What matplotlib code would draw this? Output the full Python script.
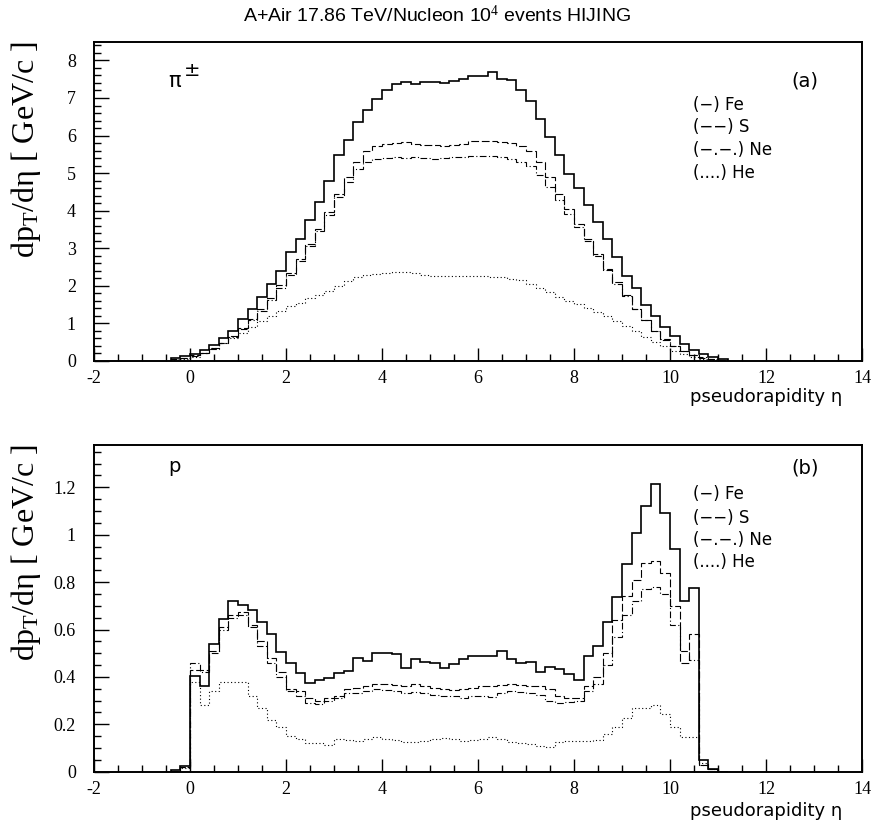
import numpy as np
import matplotlib
matplotlib.use("Agg")
import matplotlib.pyplot as plt
from matplotlib.ticker import MultipleLocator, FuncFormatter

# ---------------- data (bin contents, 0.2-wide bins starting at eta = -0.4) ----------------
bin_start = -0.4
bin_width = 0.2

pi_fe = [0.07, 0.12, 0.19, 0.28, 0.43, 0.60, 0.80, 1.11, 1.38, 1.69, 2.04, 2.40, 2.89, 3.24, 3.76,
         4.23, 4.79, 5.47, 5.89, 6.36, 6.68, 6.98, 7.21, 7.38, 7.43, 7.38, 7.42, 7.42, 7.40, 7.45,
         7.51, 7.58, 7.58, 7.69, 7.51, 7.47, 7.21, 6.93, 6.45, 5.96, 5.49, 4.98, 4.60, 4.16, 3.70,
         3.24, 2.76, 2.25, 1.94, 1.49, 1.20, 0.90, 0.65, 0.45, 0.29, 0.17, 0.09, 0.04]
pi_s = [0.04, 0.08, 0.14, 0.21, 0.33, 0.48, 0.65, 0.88, 1.12, 1.38, 1.68, 2.02, 2.35, 2.72, 3.12,
        3.52, 3.95, 4.45, 4.90, 5.30, 5.60, 5.72, 5.78, 5.80, 5.82, 5.78, 5.76, 5.74, 5.72, 5.76,
        5.78, 5.85, 5.86, 5.86, 5.84, 5.80, 5.72, 5.60, 5.30, 4.90, 4.45, 4.05, 3.65, 3.25, 2.85,
        2.45, 2.10, 1.75, 1.38, 1.08, 0.80, 0.56, 0.38, 0.25, 0.15, 0.08, 0.04, 0.02]
pi_ne = [0.04, 0.08, 0.13, 0.20, 0.32, 0.47, 0.63, 0.85, 1.08, 1.33, 1.62, 1.95, 2.28, 2.65, 3.05,
         3.45, 3.88, 4.35, 4.75, 5.10, 5.30, 5.38, 5.40, 5.42, 5.40, 5.42, 5.40, 5.38, 5.40, 5.42,
         5.42, 5.45, 5.45, 5.45, 5.43, 5.38, 5.30, 5.18, 4.95, 4.62, 4.28, 3.92, 3.55, 3.18, 2.80,
         2.42, 2.05, 1.72, 1.38, 1.08, 0.80, 0.58, 0.40, 0.26, 0.16, 0.09, 0.04, 0.02]
pi_he = [0.02, 0.05, 0.11, 0.20, 0.34, 0.47, 0.60, 0.74, 0.90, 1.05, 1.18, 1.32, 1.45, 1.54, 1.67,
         1.76, 1.85, 1.98, 2.12, 2.23, 2.28, 2.31, 2.34, 2.36, 2.36, 2.35, 2.29, 2.27, 2.25, 2.25,
         2.25, 2.26, 2.26, 2.24, 2.22, 2.19, 2.14, 2.05, 1.95, 1.82, 1.70, 1.60, 1.50, 1.40, 1.30,
         1.18, 1.05, 0.92, 0.78, 0.64, 0.50, 0.38, 0.27, 0.17, 0.10, 0.05, 0.02, 0.01]

p_fe = [0.007, 0.024, 0.405, 0.363, 0.537, 0.643, 0.720, 0.703, 0.682, 0.633, 0.580, 0.507, 0.457,
        0.418, 0.375, 0.387, 0.394, 0.418, 0.427, 0.481, 0.467, 0.500, 0.500, 0.497, 0.439, 0.474,
        0.464, 0.457, 0.437, 0.453, 0.476, 0.490, 0.488, 0.490, 0.509, 0.474, 0.460, 0.464, 0.422,
        0.440, 0.432, 0.411, 0.387, 0.488, 0.530, 0.633, 0.736, 0.875, 1.008, 1.121, 1.213, 1.093,
        0.940, 0.720, 0.777, 0.049, 0.010, 0.0]
p_s = [0.005, 0.020, 0.430, 0.430, 0.510, 0.610, 0.660, 0.675, 0.620, 0.550, 0.480, 0.420, 0.350,
       0.340, 0.310, 0.300, 0.310, 0.320, 0.350, 0.355, 0.360, 0.370, 0.370, 0.365, 0.360, 0.370,
       0.360, 0.355, 0.350, 0.345, 0.350, 0.355, 0.360, 0.360, 0.365, 0.370, 0.365, 0.360, 0.360,
       0.350, 0.320, 0.310, 0.310, 0.360, 0.400, 0.500, 0.640, 0.740, 0.810, 0.880, 0.890, 0.840,
       0.700, 0.460, 0.580, 0.030, 0.010, 0.0]
p_ne = [0.005, 0.020, 0.460, 0.420, 0.500, 0.600, 0.650, 0.660, 0.610, 0.530, 0.460, 0.400, 0.340,
        0.320, 0.290, 0.285, 0.300, 0.310, 0.330, 0.330, 0.340, 0.350, 0.345, 0.340, 0.330, 0.335,
        0.330, 0.325, 0.320, 0.320, 0.310, 0.320, 0.320, 0.315, 0.330, 0.340, 0.335, 0.330, 0.325,
        0.300, 0.290, 0.295, 0.300, 0.340, 0.370, 0.450, 0.570, 0.660, 0.720, 0.770, 0.780, 0.750,
        0.620, 0.510, 0.470, 0.030, 0.010, 0.0]
p_he = [0.003, 0.015, 0.380, 0.280, 0.340, 0.380, 0.380, 0.380, 0.320, 0.270, 0.220, 0.190, 0.150,
        0.137, 0.123, 0.120, 0.113, 0.138, 0.135, 0.130, 0.140, 0.148, 0.140, 0.135, 0.126, 0.124,
        0.130, 0.138, 0.142, 0.140, 0.130, 0.135, 0.140, 0.148, 0.140, 0.125, 0.120, 0.118, 0.110,
        0.105, 0.125, 0.130, 0.130, 0.130, 0.135, 0.160, 0.190, 0.225, 0.270, 0.270, 0.280, 0.245,
        0.190, 0.148, 0.148, 0.035, 0.010, 0.0]

legend_labels = ["(\u2212) Fe", "(\u2212\u2212) S", "(\u2212.\u2212.) Ne", "(....) He"]
title_text = "A+Air 17.86 TeV/Nucleon 10$^4$ events HIJING"
ylabel_text = "dp$_\\mathrm{T}$/d\u03b7 [ GeV/c ]"
xlabel_text = "pseudorapidity \u03b7"

# ---------------- figure ----------------
W, H = 874, 831
plt.rcParams['mathtext.fontset'] = 'custom'
plt.rcParams['mathtext.rm'] = 'Liberation Serif'
plt.rcParams['mathtext.it'] = 'Liberation Serif:italic'
fig = plt.figure(figsize=(W / 100, H / 100), dpi=100)


def px_axes(x0, x1, ytop, ybot):
    return fig.add_axes([x0 / W, 1 - ybot / H, (x1 - x0) / W, (ybot - ytop) / H])


ax1 = px_axes(94, 862, 41.7, 360.7)
ax2 = px_axes(94, 862, 771.7 - 1.38 * 237, 771.7)

styles = [dict(color='black', lw=1.2, ls='-'),
          dict(color='black', lw=0.8, ls=(0, (7, 2.5))),
          dict(color='black', lw=0.8, ls=(0, (6, 2.2, 1, 2.2))),
          dict(color='black', lw=0.8, ls=(0, (1, 2.2)))]

fmt = FuncFormatter(lambda v, p: f"{v:g}")


def draw_panel(ax, series, ymax, ymaj, ymin):
    n = len(series[0])
    edges = bin_start + bin_width * np.arange(n + 1)
    for vals, st in zip(series, styles):
        ax.stairs(vals, edges, baseline=0, **st)
    ax.set_xlim(-2, 14)
    ax.set_ylim(0, ymax)
    ax.xaxis.set_major_locator(MultipleLocator(2))
    ax.xaxis.set_minor_locator(MultipleLocator(0.5))
    ax.yaxis.set_major_locator(MultipleLocator(ymaj))
    ax.yaxis.set_minor_locator(MultipleLocator(ymin))
    ax.xaxis.set_major_formatter(fmt)
    ax.yaxis.set_major_formatter(fmt)
    ax.tick_params(axis='both', which='both', direction='in', top=False, right=False,
                   width=1.0, labelsize=13)
    ax.tick_params(axis='x', which='major', length=9.5, pad=7)
    ax.tick_params(axis='x', which='minor', length=5)
    ax.tick_params(axis='y', which='major', length=10.5, pad=13)
    ax.tick_params(axis='y', which='minor', length=5)
    for lab in ax.get_xticklabels() + ax.get_yticklabels():
        lab.set_fontfamily('Liberation Serif')
    for sp in ax.spines.values():
        sp.set_linewidth(1.4)
    ax.set_ylabel(ylabel_text, fontsize=23, family='Liberation Serif', loc='top')
    ax.yaxis.set_label_coords(-0.066, 1.0)


draw_panel(ax1, [pi_fe, pi_s, pi_ne, pi_he], 8.5, 1, 0.2)
draw_panel(ax2, [p_fe, p_s, p_ne, p_he], 1.38, 0.2, 0.05)


def ftext(x, y, s, **kw):
    fig.text(x / W, 1 - y / H, s, **kw)


ftext(437, 15, title_text, ha='center', va='center', fontsize=14,
      family=['Liberation Sans', 'DejaVu Sans'])

sans = 'DejaVu Sans'
# panel (a)
ftext(168, 87, "\u03c0", ha='left', va='baseline', fontsize=15, family=sans)
ftext(184, 76, "\u00b1", ha='left', va='baseline', fontsize=14, family=sans)
ftext(805, 81, "(a)", ha='center', va='center', fontsize=14, family=sans)
for lab, yy in zip(legend_labels, [105, 127, 150, 173]):
    ftext(693, yy, lab, ha='left', va='center', fontsize=12, family=sans)
ftext(842, 397, xlabel_text, ha='right', va='center', fontsize=13, family=sans)

# panel (b)
ftext(168, 466, "p", ha='left', va='center', fontsize=14, family=sans)
ftext(805, 468, "(b)", ha='center', va='center', fontsize=14, family=sans)
for lab, yy in zip(legend_labels, [494, 518, 540, 562]):
    ftext(693, yy, lab, ha='left', va='center', fontsize=12, family=sans)
ftext(842, 811, xlabel_text, ha='right', va='center', fontsize=13, family=sans)

fig.savefig("out.png", dpi=100)
